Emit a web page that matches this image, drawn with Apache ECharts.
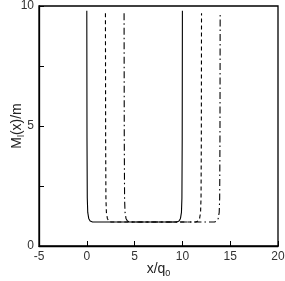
<!DOCTYPE html>
<html><head><meta charset="utf-8">
<script src="https://cdn.jsdelivr.net/npm/echarts@6/dist/echarts.min.js"></script>
<style>html,body{margin:0;padding:0;background:#fff}#c{width:285px;height:281px}</style>
</head><body><div id="c"></div>
<script>
// x/q0 positions and M(x)/m values for each curve
const solidX = [0, 0.02, 0.05, 0.1, 0.2, 0.35, 0.6, 5, 9.4, 9.65, 9.8, 9.9, 9.95, 9.98, 10];
const solidY = [9.8, 4.5, 2.0, 1.4, 1.15, 1.04, 1.0, 1.0, 1.0, 1.04, 1.15, 1.4, 2.0, 4.5, 9.8];
const dashX = [1.95, 1.97, 2.0, 2.05, 2.15, 2.3, 2.55, 7, 11.4, 11.65, 11.8, 11.9, 11.95, 11.98, 12.0];
const dashY = [9.7, 4.5, 2.0, 1.4, 1.15, 1.04, 1.0, 1.0, 1.0, 1.04, 1.15, 1.4, 2.0, 4.5, 9.7];
const dashDotX = [3.9, 3.92, 3.95, 4.0, 4.1, 4.25, 4.5, 9, 13.35, 13.6, 13.75, 13.85, 13.9, 13.93, 13.95];
const dashDotY = [9.7, 4.5, 2.0, 1.4, 1.15, 1.04, 1.0, 1.0, 1.0, 1.04, 1.15, 1.4, 2.0, 4.5, 9.7];
const xTicks = [-5, 0, 5, 10, 15, 20];
const yTickLabels = [0, 5, 10];

const pairs = (xs, ys) => xs.map((x, i) => [x, ys[i]]);
const chart = echarts.init(document.getElementById('c'), null, {renderer: 'canvas'});
const font = 'Liberation Sans, Arial, sans-serif';
chart.setOption({
  animation: false,
  backgroundColor: '#fff',
  grid: {left: 39, top: 6, width: 239, height: 240, containLabel: false, outerBoundsMode: 'none',
    show: true, borderColor: '#000', borderWidth: 1.3, backgroundColor: 'transparent'},
  xAxis: {
    type: 'value', min: xTicks[0], max: xTicks[xTicks.length - 1], interval: 5,
    axisLine: {show: true, onZero: false, lineStyle: {color: '#000', width: 1.3}},
    axisTick: {show: true, inside: true, length: 5, lineStyle: {color: '#000'}},
    axisLabel: {color: '#333', fontFamily: font, fontSize: 12, margin: 5},
    splitLine: {show: false},
    name: '{a|x/q}{s|0}', nameLocation: 'middle', nameGap: 15, nameMoveOverlap: false,
    nameTextStyle: {rich: {a: {fontFamily: font, fontSize: 14, color: '#222'}, s: {fontFamily: font, fontSize: 9, color: '#222', padding: [8, 0, 0, 0]}}}
  },
  yAxis: {
    type: 'value', min: 0, max: 10, interval: 2.5,
    axisLine: {show: true, onZero: false, lineStyle: {color: '#000', width: 1.3}},
    axisTick: {show: true, inside: true, length: 5, lineStyle: {color: '#000'}},
    axisLabel: {color: '#333', fontFamily: font, fontSize: 12, margin: 5,
      formatter: v => yTickLabels.includes(v) ? String(v) : ''},
    splitLine: {show: false},
    name: '{a|M}{s|l}{a|(x)/m}', nameLocation: 'middle', nameGap: 13, nameRotate: 90, nameMoveOverlap: false,
    nameTextStyle: {rich: {a: {fontFamily: font, fontSize: 14, color: '#222'}, s: {fontFamily: font, fontSize: 9, color: '#222', padding: [8, 0, 0, 0]}}}
  },
  series: [
    {type: 'line', data: pairs(solidX, solidY), showSymbol: false, lineStyle: {color: '#000', width: 1.1, type: 'solid'}},
    {type: 'line', data: pairs(dashX, dashY), showSymbol: false, lineStyle: {color: '#000', width: 1.1, type: [4, 3]}},
    {type: 'line', data: pairs(dashDotX, dashDotY), showSymbol: false, lineStyle: {color: '#000', width: 1.1, type: [7, 3, 1.5, 3]}}
  ]
});
</script></body></html>
